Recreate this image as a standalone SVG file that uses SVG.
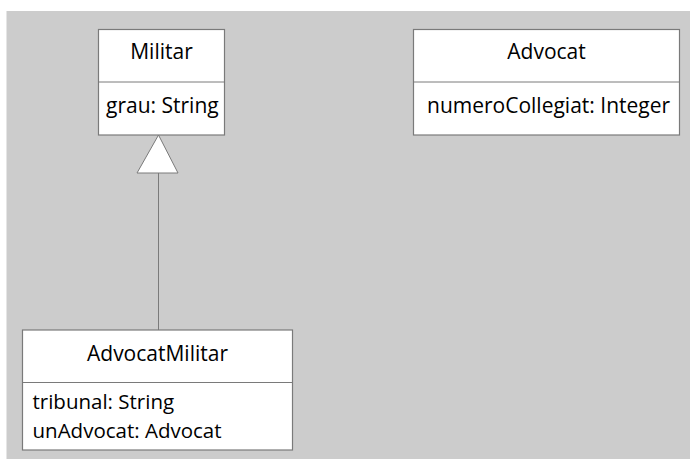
<svg xmlns="http://www.w3.org/2000/svg" width="690" height="459" viewBox="0 0 690 459">
<style>
.box{fill:#fff;stroke:#7a7a7a;stroke-width:1.2}
.div{stroke:#7a7a7a;stroke-width:1}
text{font-family:"Open Sans","Noto Sans",sans-serif;font-size:21px;fill:#000}
.c{text-anchor:middle}
.a2{font-size:20.5px}
.edge{stroke:#7a7a7a;stroke-width:1;fill:none}
.tri{fill:#fff;stroke:#7a7a7a;stroke-width:1}
</style>
<rect x="0" y="0" width="690" height="459" fill="#fff"/>
<rect x="6.5" y="11" width="683.5" height="448" fill="#cccccc"/>
<g id="connectors">
<line class="edge" x1="158.5" y1="173" x2="158.5" y2="330"/>
<polygon class="tri" points="158.5,135 137,173 178,173"/>
</g>
<g id="Militar">
<rect class="box" x="98.5" y="29.5" width="126" height="105.5"/>
<line class="div" x1="98.5" y1="82" x2="224.5" y2="82"/>
<text class="c" x="161.5" y="59">Militar</text>
<text x="106" y="113">grau: String</text>
</g>
<g id="Advocat">
<rect class="box" x="413.5" y="29.5" width="266" height="105.5"/>
<line class="div" x1="413.5" y1="82" x2="679.5" y2="82"/>
<text class="c" x="546.5" y="59">Advocat</text>
<text x="427" y="113">numeroCollegiat: Integer</text>
</g>
<g id="AdvocatMilitar">
<rect class="box" x="22.5" y="330" width="270" height="120"/>
<line class="div" x1="22.5" y1="382.5" x2="292.5" y2="382.5"/>
<text class="c" x="157.5" y="361">AdvocatMilitar</text>
<text class="a2" x="32.5" y="409">tribunal: String</text>
<text class="a2" x="32.5" y="437.5">unAdvocat: Advocat</text>
</g>
</svg>
